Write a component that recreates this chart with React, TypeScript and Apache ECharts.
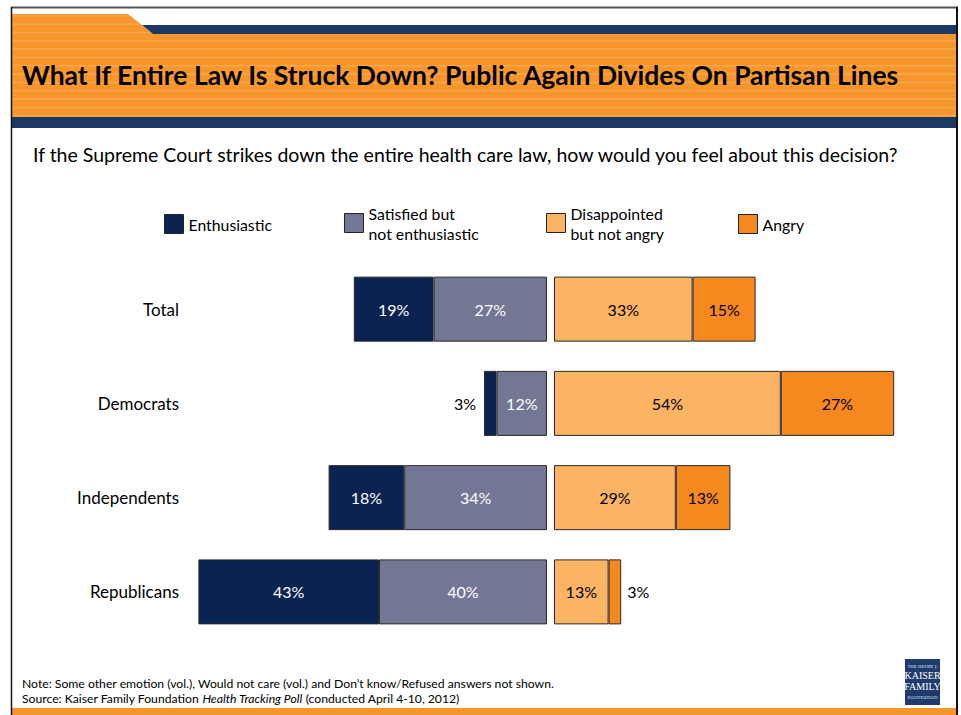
import React, { useEffect, useRef } from "react";
import * as echarts from "echarts";

const categories = ["Total", "Democrats", "Independents", "Republicans"];
const enthusiastic = [19, 3, 18, 43];
const satisfied = [27, 12, 34, 40];
const disappointed = [33, 54, 29, 13];
const angry = [15, 27, 13, 3];
const seriesNames = [
  "Enthusiastic",
  "Satisfied but\nnot enthusiastic",
  "Disappointed\nbut not angry",
  "Angry",
];
const titleText = "What If Entire Law Is Struck Down? Public Again Divides On Partisan Lines";
const subtitleText =
  "If the Supreme Court strikes down the entire health care law, how would you feel about this decision?";
const noteText =
  "Note: Some other emotion (vol.), Would not care (vol.) and Don\u2019t know/Refused answers not shown.";

const FONT = "Lato, 'Noto Sans', sans-serif";
const NAVY = "#0B2350";
const SLATE = "#737793";
const LIGHT_OR = "#FBB463";
const ORANGE = "#F5891F";
const BANNER_OR = "#F7962B";
const BANNER_NAVY = "#1A3A63";

function withSmallLabels(values: number[], side: "left" | "right") {
  return values.map((v) =>
    v < 5
      ? { value: v, label: { position: side, color: "#000", distance: side === "left" ? 8 : 6 } }
      : v
  );
}

export default function App() {
  const ref = useRef<HTMLDivElement>(null);
  useEffect(() => {
    if (!ref.current) return;
    const chart = echarts.init(ref.current, undefined, { renderer: "svg" });

    const stripes: any[] = [];
    for (let i = 0; i < 13; i++) {
      const y = 15 + i * 8.33;
      const x2 = y < 34 ? 128 + ((y - 14) * 25) / 20 : 956;
      stripes.push({
        type: "rect",
        silent: true,
        z: 1,
        shape: { x: 12, y, width: x2 - 12, height: 1.6 },
        style: { fill: "rgba(255,255,255,0.16)" },
      });
    }

    const barCommon = {
      type: "bar",
      barWidth: 65,
      itemStyle: { borderColor: "#2a2a2a", borderWidth: 1 },
      label: {
        show: true,
        position: "inside",
        formatter: "{c}%",
        fontSize: 16,
        fontFamily: FONT,
      },
    };

    const legendLefts = [159, 339, 541, 733];
    const legendTops = [209, 198, 198, 209];

    const option: any = {
      animation: false,
      backgroundColor: "#ffffff",
      title: [
        {
          text: titleText,
          left: 17,
          top: 56,
          textStyle: { fontFamily: FONT, fontWeight: "bold", fontSize: 26.5, color: "#000" },
        },
        {
          text: subtitleText,
          left: 28,
          top: 139,
          textStyle: { fontFamily: FONT, fontWeight: "normal", fontSize: 19.5, color: "#000" },
        },
        {
          text: noteText,
          left: 17,
          top: 672,
          textStyle: { fontFamily: FONT, fontWeight: "normal", fontSize: 12.2, color: "#000" },
        },
        {
          text: "Source: Kaiser Family Foundation {i|Health Tracking Poll} (conducted April 4-10, 2012)",
          left: 17,
          top: 687,
          textStyle: {
            fontFamily: FONT,
            fontWeight: "normal",
            fontSize: 12.2,
            color: "#000",
            rich: { i: { fontStyle: "italic", fontFamily: FONT, fontSize: 12.2, color: "#000" } },
          },
        },
      ],
      legend: seriesNames.map((n, i) => ({
        data: [n],
        left: legendLefts[i],
        top: legendTops[i],
        icon: "rect",
        itemWidth: 19,
        itemHeight: 19,
        selectedMode: false,
        itemStyle: { borderColor: "#222", borderWidth: 1 },
        textStyle: { fontFamily: FONT, fontSize: 15.8, lineHeight: 20, color: "#000" },
      })),
      grid: [
        { left: 190, top: 262, width: 357, height: 377 },
        { left: 554, top: 262, width: 357, height: 377 },
      ],
      xAxis: [
        { type: "value", gridIndex: 0, min: 0, max: 85, inverse: true, show: false },
        { type: "value", gridIndex: 1, min: 0, max: 85, show: false },
      ],
      yAxis: [
        {
          type: "category",
          gridIndex: 0,
          data: categories,
          inverse: true,
          axisLine: { show: false },
          axisTick: { show: false },
          axisLabel: { fontFamily: FONT, fontSize: 17, color: "#000", margin: 11 },
        },
        { type: "category", gridIndex: 1, data: categories, inverse: true, show: false },
      ],
      series: [
        {
          ...barCommon,
          name: seriesNames[1],
          stack: "neg",
          xAxisIndex: 0,
          yAxisIndex: 0,
          data: withSmallLabels(satisfied, "left"),
          itemStyle: { ...barCommon.itemStyle, color: SLATE },
          label: { ...barCommon.label, color: "#fff" },
        },
        {
          ...barCommon,
          name: seriesNames[0],
          stack: "neg",
          xAxisIndex: 0,
          yAxisIndex: 0,
          data: withSmallLabels(enthusiastic, "left"),
          itemStyle: { ...barCommon.itemStyle, color: NAVY },
          label: { ...barCommon.label, color: "#fff" },
        },
        {
          ...barCommon,
          name: seriesNames[2],
          stack: "pos",
          xAxisIndex: 1,
          yAxisIndex: 1,
          data: withSmallLabels(disappointed, "right"),
          itemStyle: { ...barCommon.itemStyle, color: LIGHT_OR },
          label: { ...barCommon.label, color: "#000" },
        },
        {
          ...barCommon,
          name: seriesNames[3],
          stack: "pos",
          xAxisIndex: 1,
          yAxisIndex: 1,
          data: withSmallLabels(angry, "right"),
          itemStyle: { ...barCommon.itemStyle, color: ORANGE },
          label: { ...barCommon.label, color: "#000" },
        },
      ],
      graphic: [
        {
          type: "polygon",
          silent: true,
          z: 0,
          shape: {
            points: [
              [12, 14],
              [128, 14],
              [153, 34],
              [956, 34],
              [956, 117],
              [12, 117],
            ],
          },
          style: { fill: BANNER_OR },
        },
        ...stripes,
        {
          type: "polygon",
          silent: true,
          z: 2,
          shape: {
            points: [
              [142, 25],
              [956, 25],
              [956, 34],
              [153, 34],
            ],
          },
          style: { fill: BANNER_NAVY },
        },
        {
          type: "rect",
          silent: true,
          z: 2,
          shape: { x: 12, y: 117, width: 944, height: 11 },
          style: { fill: BANNER_NAVY },
        },
        {
          type: "rect",
          silent: true,
          z: 2,
          shape: { x: 12, y: 708, width: 944, height: 7 },
          style: { fill: BANNER_OR },
        },
        {
          type: "line",
          silent: true,
          z: 3,
          shape: { x1: 11, y1: 7.5, x2: 958, y2: 7.5 },
          style: { stroke: "#555", lineWidth: 2 },
        },
        {
          type: "line",
          silent: true,
          z: 3,
          shape: { x1: 11.5, y1: 7, x2: 11.5, y2: 715 },
          style: { stroke: "#111", lineWidth: 1.5 },
        },
        {
          type: "line",
          silent: true,
          z: 3,
          shape: { x1: 957, y1: 7, x2: 957, y2: 715 },
          style: { stroke: "#111", lineWidth: 2 },
        },
        {
          type: "group",
          z: 3,
          children: [
            {
              type: "rect",
              shape: { x: 905, y: 659, width: 35, height: 46 },
              style: { fill: "#1F3B6E" },
            },
            {
              type: "text",
              x: 922.5,
              y: 664,
              style: { text: "THE HENRY J.", fill: "#dfe4ee", fontSize: 4, fontFamily: "'DejaVu Serif', serif", align: "center" },
            },
            {
              type: "text",
              x: 922.5,
              y: 670,
              style: { text: "KAISER", fill: "#ffffff", fontSize: 10, fontFamily: "'Liberation Serif', serif", align: "center" },
            },
            {
              type: "text",
              x: 922.5,
              y: 681,
              style: { text: "FAMILY", fill: "#ffffff", fontSize: 10, fontFamily: "'Liberation Serif', serif", align: "center" },
            },
            {
              type: "text",
              x: 922.5,
              y: 695,
              style: { text: "FOUNDATION", fill: "#dfe4ee", fontSize: 4, fontFamily: "'DejaVu Serif', serif", align: "center" },
            },
          ],
        },
      ],
    };

    chart.setOption(option);
    return () => chart.dispose();
  }, []);

  return (
    <div
      ref={ref}
      style={{ position: "fixed", left: 0, top: 0, width: 961, height: 715 }}
    />
  );
}
